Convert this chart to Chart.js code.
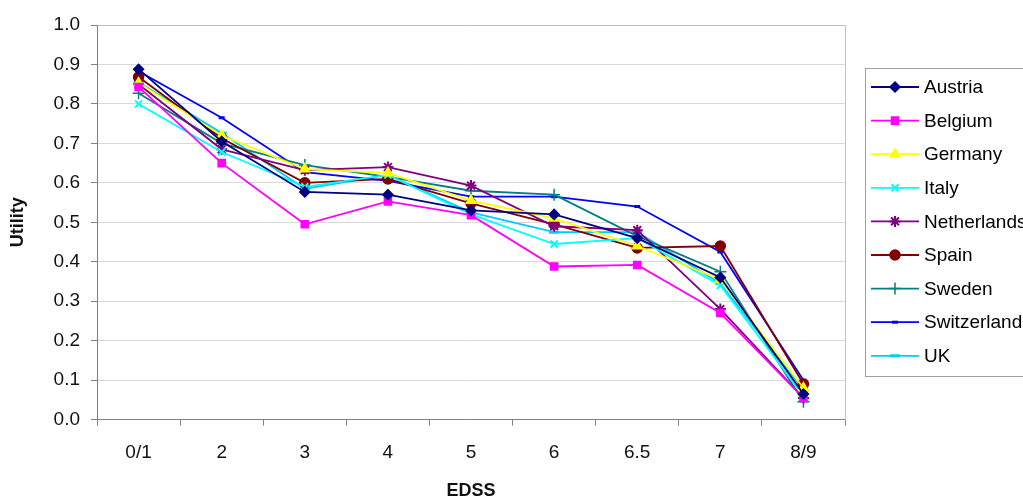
<!DOCTYPE html>
<html>
<head>
<meta charset="utf-8">
<script src="https://cdn.jsdelivr.net/npm/chart.js@4.4.1/dist/chart.umd.min.js"></script>
<style>
  html, body { margin: 0; padding: 0; background: #fff; }
  #wrap { width: 1023px; height: 502px; }
</style>
</head>
<body>
<div id="wrap"><canvas id="c" width="1023" height="502"></canvas></div>
<script>
const categories = ['0/1', '2', '3', '4', '5', '6', '6.5', '7', '8/9'];

const austria     = [0.888, 0.705, 0.577, 0.570, 0.530, 0.520, 0.460, 0.360, 0.065];
const belgium     = [0.843, 0.650, 0.495, 0.553, 0.518, 0.388, 0.392, 0.270, 0.055];
const germany     = [0.853, 0.720, 0.635, 0.625, 0.555, 0.510, 0.440, 0.355, 0.080];
const italy       = [0.800, 0.678, 0.590, 0.620, 0.520, 0.445, 0.460, 0.340, 0.060];
const netherlands = [0.850, 0.685, 0.632, 0.640, 0.593, 0.490, 0.480, 0.280, 0.055];
const spain       = [0.868, 0.713, 0.600, 0.610, 0.548, 0.495, 0.435, 0.440, 0.090];
const sweden      = [0.827, 0.700, 0.645, 0.615, 0.580, 0.570, 0.465, 0.375, 0.045];
const switzerland = [0.883, 0.765, 0.627, 0.605, 0.565, 0.565, 0.540, 0.425, 0.100];
const uk          = [0.855, 0.726, 0.585, 0.620, 0.525, 0.475, 0.475, 0.345, 0.075];

const yTicks = [0, 0.1, 0.2, 0.3, 0.4, 0.5, 0.6, 0.7, 0.8, 0.9, 1.0];

const FONT = '"Liberation Sans", Arial, sans-serif';

function ds(label, data, color, style, radius, extra) {
  return Object.assign({
    label: label,
    data: data,
    borderColor: color,
    backgroundColor: color,
    pointBackgroundColor: color,
    pointBorderColor: color,
    pointStyle: style,
    pointRadius: radius,
    pointHoverRadius: radius,
    pointBorderWidth: 1.5,
    borderWidth: 1.8,
    tension: 0,
    fill: false
  }, extra || {});
}

const datasets = [
  ds('Austria', austria, '#000080', 'rectRot', 5),
  ds('Belgium', belgium, '#FF00FF', 'rect', 5),
  ds('Germany', germany, '#FFFF00', 'triangle', 5.5),
  ds('Italy', italy, '#00FFFF', 'crossRot', 5, {pointBorderWidth: 2}),
  ds('Netherlands', netherlands, '#800080', 'star', 5.5, {pointBorderWidth: 2}),
  ds('Spain', spain, '#800000', 'circle', 5),
  ds('Sweden', sweden, '#008080', 'cross', 6, {pointBorderWidth: 1.5}),
  ds('Switzerland', switzerland, '#0000FF', 'line', 3, {pointBorderWidth: 3}),
  ds('UK', uk, '#00CCFF', 'line', 5, {pointBorderWidth: 3})
];

const frame = {
  id: 'frame',
  beforeDatasetsDraw(chart) {
    const a = chart.chartArea, ctx = chart.ctx;
    ctx.save();
    ctx.strokeStyle = '#c0c0c0';
    ctx.lineWidth = 1;
    ctx.beginPath();
    ctx.moveTo(Math.round(a.left) + 0.5, Math.round(a.top) + 0.5);
    ctx.lineTo(Math.round(a.right) + 0.5, Math.round(a.top) + 0.5);
    ctx.lineTo(Math.round(a.right) + 0.5, Math.round(a.bottom) + 0.5);
    ctx.stroke();
    ctx.restore();
  },
  afterDraw(chart) {
    const ctx = chart.ctx;
    const bx = 865, by = 68, bw = 200, bh = 308;
    ctx.save();
    ctx.strokeStyle = '#a0a0a0';
    ctx.lineWidth = 1;
    ctx.strokeRect(bx + 0.5, by + 0.5, bw, bh);
    ctx.font = '19px ' + FONT;
    ctx.textBaseline = 'middle';
    ctx.textAlign = 'left';
    chart.data.datasets.forEach((d, i) => {
      const y = 87 + i * 33.6;
      ctx.strokeStyle = d.borderColor;
      ctx.lineWidth = 1.8;
      ctx.beginPath();
      ctx.moveTo(871, y);
      ctx.lineTo(919, y);
      ctx.stroke();
      ctx.fillStyle = d.pointBackgroundColor;
      ctx.strokeStyle = d.pointBorderColor;
      ctx.lineWidth = d.pointBorderWidth;
      Chart.helpers.drawPoint(ctx, {
        pointStyle: d.pointStyle,
        radius: d.pointRadius,
        rotation: 0,
        borderWidth: d.pointBorderWidth
      }, 895, y);
      ctx.fillStyle = '#000';
      ctx.fillText(d.label, 924, y + 1);
    });
    ctx.restore();
  }
};

new Chart(document.getElementById('c'), {
  type: 'line',
  data: { labels: categories, datasets: datasets },
  options: {
    responsive: false,
    animation: false,
    devicePixelRatio: 1,
    layout: { padding: { left: 7, right: 178, top: 25, bottom: 0 } },
    plugins: {
      legend: { display: false },
      tooltip: { enabled: false }
    },
    scales: {
      x: {
        offset: true,
        grid: {
          offset: true,
          drawOnChartArea: false,
          tickLength: 6,
          tickColor: '#808080'
        },
        border: { color: '#808080', width: 1 },
        ticks: {
          color: '#111',
          font: { family: FONT, size: 19 },
          padding: 16
        },
        title: {
          display: true,
          text: 'EDSS',
          color: '#111',
          font: { family: FONT, size: 18, weight: 'bold' },
          padding: { top: 0, bottom: 0 }
        }
      },
      y: {
        min: 0,
        max: 1,
        afterBuildTicks(scale) { scale.ticks = yTicks.map(v => ({ value: v })); },
        grid: {
          color: '#d9d9d9',
          tickLength: 6,
          tickColor: '#808080'
        },
        border: { color: '#808080', width: 1 },
        ticks: {
          color: '#111',
          font: { family: FONT, size: 19 },
          padding: 11,
          callback: v => Number(v).toFixed(1)
        },
        title: {
          display: true,
          text: 'Utility',
          color: '#111',
          font: { family: FONT, size: 18, weight: 'bold' },
          padding: { top: 0, bottom: 14 }
        }
      }
    }
  },
  plugins: [frame]
});
</script>
</body>
</html>
